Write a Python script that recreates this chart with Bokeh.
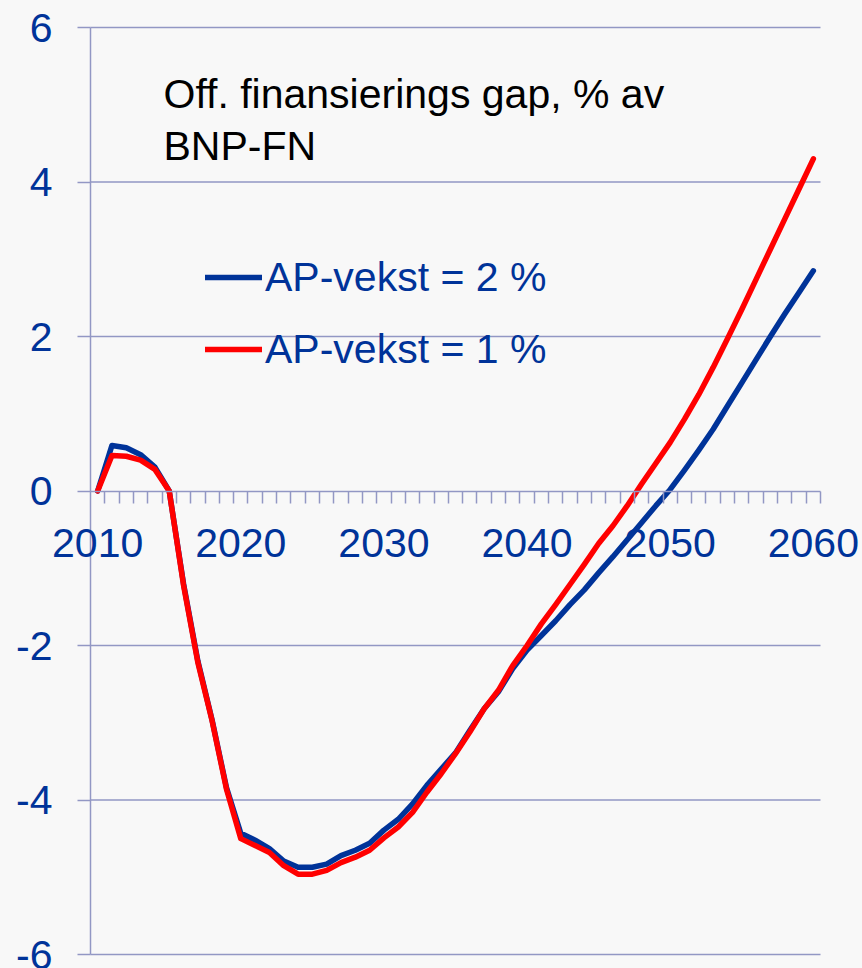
from bokeh.plotting import figure
from bokeh.models import (Range1d, FixedTicker, LinearAxis, Label, Legend, LegendItem,
                          CustomJSTickFormatter)
from bokeh.embed import file_html
from bokeh.resources import INLINE

years = list(range(2010, 2061))
ap_2 = [0.0, 0.59, 0.56, 0.47, 0.31, 0.0, -1.2, -2.2, -2.97, -3.84,
        -4.43, -4.52, -4.63, -4.79, -4.87, -4.87, -4.83, -4.72, -4.65, -4.56,
        -4.39, -4.25, -4.05, -3.81, -3.6, -3.39, -3.1, -2.82, -2.6, -2.3,
        -2.06, -1.87, -1.68, -1.47, -1.28, -1.06, -0.85, -0.63, -0.41, -0.19,
        0.02, 0.27, 0.53, 0.8, 1.1, 1.4, 1.7, 2.0, 2.29, 2.57, 2.85]
ap_1 = [0.0, 0.46, 0.45, 0.40, 0.28, 0.0, -1.22, -2.22, -2.98, -3.86,
        -4.5, -4.59, -4.68, -4.85, -4.96, -4.96, -4.91, -4.81, -4.74, -4.65,
        -4.49, -4.35, -4.16, -3.9, -3.66, -3.4, -3.12, -2.82, -2.58, -2.26,
        -2.0, -1.72, -1.47, -1.21, -0.95, -0.68, -0.45, -0.19, 0.09, 0.36,
        0.63, 0.93, 1.25, 1.6, 1.97, 2.35, 2.74, 3.13, 3.52, 3.91, 4.30]
y_ticks = [-6, -4, -2, 0, 2, 4, 6]
x_label_years = [2010, 2020, 2030, 2040, 2050, 2060]
series_names = ["AP-vekst = 2 %", "AP-vekst = 1 %"]
title_lines = ["Off. finansierings gap, % av", "BNP-FN"]

BG = "#F8F8F8"
GRID = "#9297C4"
TXT = "#003399"
FONT = "Liberation Sans"
FS = "41px"

W, H = 862, 968
# plot-area placement in pixels (left, right, top, bottom)
PL, PR, PT, PB = 90, 820, 27, 954
x_lo, x_hi = years[0] - 0.5, years[-1] + 0.5
y_lo, y_hi = y_ticks[0], y_ticks[-1]
sx = (PR - PL) / (x_hi - x_lo)
sy = (PB - PT) / (y_hi - y_lo)

p = figure(width=W, height=H, output_backend="svg", toolbar_location=None,
           x_range=Range1d(x_lo - PL / sx, x_hi + (W - PR) / sx),
           y_range=Range1d(y_lo - (H - PB) / sy, y_hi + PT / sy),
           x_axis_location=None, y_axis_location=None,
           min_border_left=0, min_border_right=0, min_border_top=0, min_border_bottom=0)
p.background_fill_color = BG
p.border_fill_color = BG
p.outline_line_color = None
p.xgrid.visible = False
p.ygrid.visible = False

# horizontal grid lines
grid_y = [t for t in y_ticks if t != 0]
p.segment(x0=[x_lo] * len(grid_y), x1=[x_hi] * len(grid_y), y0=grid_y, y1=grid_y,
          line_color=GRID, line_width=1.5)

# y axis
yax = LinearAxis(ticker=FixedTicker(ticks=y_ticks), fixed_location=x_lo, bounds=(y_lo, y_hi))
yax.formatter = CustomJSTickFormatter(code="return tick.toString()")
yax.axis_line_color = GRID
yax.axis_line_width = 1.5
yax.major_tick_line_color = GRID
yax.major_tick_line_width = 1.5
yax.major_tick_out = 13
yax.major_tick_in = 0
yax.minor_tick_line_color = None
yax.major_label_text_color = TXT
yax.major_label_text_font = FONT
yax.major_label_text_font_size = FS
yax.major_label_standoff = 25
p.add_layout(yax, "left")

# x axis at y = 0: tick marks between categories
bounds = [y + 0.5 for y in years]
xt = LinearAxis(ticker=FixedTicker(ticks=bounds), fixed_location=0, bounds=(x_lo, x_hi))
xt.axis_line_color = GRID
xt.axis_line_width = 1.5
xt.major_tick_line_color = GRID
xt.major_tick_line_width = 1.5
xt.major_tick_out = 12
xt.major_tick_in = 0
xt.minor_tick_line_color = None
xt.formatter = CustomJSTickFormatter(code="return ''")
xt.major_label_text_font_size = "1px"
p.add_layout(xt, "below")

# x labels (below the zero line)
for yr in x_label_years:
    p.add_layout(Label(x=yr, y=0, text=str(yr), y_offset=-52,
                       text_align="center", text_baseline="alphabetic",
                       text_font=FONT, text_font_size=FS, text_color=TXT))

r2 = p.line(years, ap_2, line_color="#003399", line_width=5.5, line_join="round", line_cap="round")
r1 = p.line(years, ap_1, line_color="#FF0000", line_width=5.5, line_join="round", line_cap="round")

legend = Legend(items=[LegendItem(label=series_names[0], renderers=[r2]),
                       LegendItem(label=series_names[1], renderers=[r1])],
                location=(205, 594), orientation="vertical")
legend.glyph_width = 57
legend.glyph_height = 50
legend.spacing = 22
legend.padding = 0
legend.margin = 0
legend.label_standoff = 3
legend.label_text_font = FONT
legend.label_text_font_size = FS
legend.label_text_color = TXT
legend.background_fill_alpha = 0
legend.border_line_alpha = 0
p.add_layout(legend)

p.add_layout(Label(x=163, y=H - 93, x_units="screen", y_units="screen", text=title_lines[0],
                   text_font=FONT, text_font_size=FS, text_color="black", text_baseline="alphabetic"))
p.add_layout(Label(x=163, y=H - 145, x_units="screen", y_units="screen", text=title_lines[1],
                   text_font=FONT, text_font_size=FS, text_color="black", text_baseline="alphabetic"))

html = file_html(p, INLINE)
html = html.replace("<head>", "<head><style>html,body{background:#F8F8F8;}</style>", 1)
open("out.html", "w").write(html)
